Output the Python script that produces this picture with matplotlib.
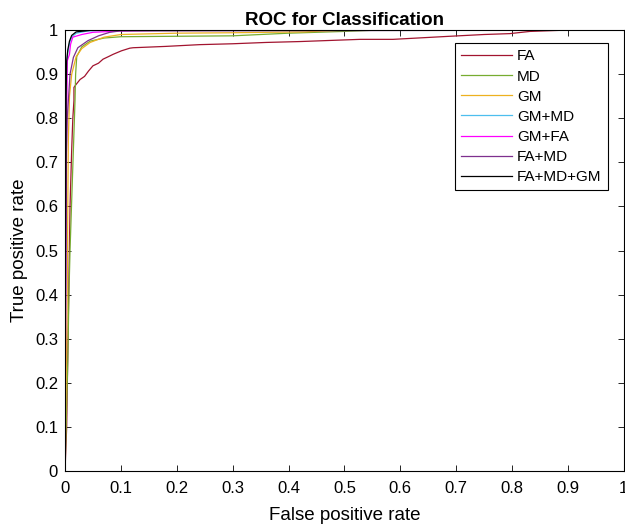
import matplotlib
matplotlib.use("Agg")
import matplotlib.pyplot as plt

plt.rcParams['font.family'] = ['Liberation Sans', 'DejaVu Sans']

names = ["FA", "MD", "GM", "GM+MD", "GM+FA", "FA+MD", "FA+MD+GM"]
colors = ["#a2142f", "#77ac30", "#edb120", "#4dbeee", "#ff00ff", "#7e2f8e", "#000000"]

fa_fpr = [0, 0.003, 0.006, 0.009, 0.012, 0.014, 0.016, 0.016, 0.02, 0.027, 0.035, 0.042, 0.05,
          0.06, 0.068, 0.078, 0.086, 0.101, 0.116, 0.122, 0.18, 0.241, 0.30, 0.36, 0.42, 0.528,
          0.587, 0.689, 0.75, 0.796, 0.832, 0.898, 1.0]
fa_tpr = [0, 0.10, 0.35, 0.60, 0.73, 0.80, 0.84, 0.87, 0.877, 0.888, 0.895, 0.907, 0.919,
          0.925, 0.934, 0.94, 0.945, 0.953, 0.959, 0.96, 0.963, 0.967, 0.969, 0.972, 0.974, 0.979,
          0.979, 0.986, 0.99, 0.992, 0.997, 1.0, 1.0]

md_fpr = [0, 0.002, 0.005, 0.007, 0.009, 0.012, 0.015, 0.018, 0.019, 0.021, 0.03, 0.045, 0.07,
          0.1, 0.2, 0.3, 0.4, 0.5, 0.56, 1.0]
md_tpr = [0, 0.1, 0.25, 0.4, 0.5, 0.615, 0.729, 0.843, 0.9, 0.94, 0.962, 0.975, 0.982,
          0.985, 0.986, 0.987, 0.993, 0.997, 1.0, 1.0]

gm_fpr = [0, 0.002, 0.004, 0.005, 0.006, 0.008, 0.012, 0.02, 0.03, 0.045, 0.07, 0.1, 0.2, 0.3,
          0.43, 0.5, 1.0]
gm_tpr = [0, 0.2, 0.4, 0.6, 0.75, 0.85, 0.9, 0.94, 0.958, 0.972, 0.984, 0.99, 0.993, 0.994,
          0.996, 1.0, 1.0]

gmmd_fpr = [0, 0.001, 0.002, 0.003, 0.005, 0.008, 0.012, 0.02, 0.04, 0.1, 1.0]
gmmd_tpr = [0, 0.4, 0.8, 0.92, 0.95, 0.97, 0.984, 0.993, 0.998, 1.0, 1.0]

gmfa_fpr = [0, 0.001, 0.002, 0.003, 0.004, 0.008, 0.010, 0.014, 0.03, 0.05, 0.1, 0.2, 1.0]
gmfa_tpr = [0, 0.3, 0.6, 0.8, 0.93, 0.945, 0.968, 0.984, 0.99, 0.995, 0.998, 1.0, 1.0]

famd_fpr = [0, 0.001, 0.002, 0.004, 0.007, 0.009, 0.015, 0.023, 0.041, 0.06, 0.08, 0.098, 1.0]
famd_tpr = [0, 0.5, 0.7, 0.8, 0.86, 0.90, 0.938, 0.96, 0.976, 0.987, 0.995, 0.998, 1.0]

all_fpr = [0, 0.001, 0.002, 0.003, 0.005, 0.008, 0.012, 0.02, 0.05, 1.0]
all_tpr = [0, 0.5, 0.85, 0.93, 0.955, 0.975, 0.988, 0.996, 1.0, 1.0]

curves = [(fa_fpr, fa_tpr), (md_fpr, md_tpr), (gm_fpr, gm_tpr), (gmmd_fpr, gmmd_tpr),
          (gmfa_fpr, gmfa_tpr), (famd_fpr, famd_tpr), (all_fpr, all_tpr)]

fig = plt.figure(figsize=(6.25, 5.28), dpi=100)
ax = fig.add_axes([0.104, 0.108, 0.894, 0.835])

for (x, y), name, c in zip(curves, names, colors):
    ax.plot(x, y, color=c, linewidth=0.9, label=name)

ax.set_xlim(0, 1)
ax.set_ylim(0, 1)
ticks = [i / 10 for i in range(11)]
tick_labels = ["0", "0.1", "0.2", "0.3", "0.4", "0.5", "0.6", "0.7", "0.8", "0.9", "1"]
ax.set_xticks(ticks)
ax.set_yticks(ticks)
ax.set_xticklabels(tick_labels)
ax.set_yticklabels(tick_labels)
ax.tick_params(direction="in", top=True, right=True, labelsize=12, length=4, width=0.6)
ax.tick_params(axis="x", pad=7)
ax.tick_params(axis="y", pad=5)
for s in ax.spines.values():
    s.set_linewidth(0.8)

ax.set_xlabel("False positive rate", fontsize=13.5, labelpad=8)
ax.set_ylabel("True positive rate", fontsize=13.5, labelpad=5)
ax.set_title("ROC for Classification", fontsize=13.5, fontweight="bold", pad=4)

leg = ax.legend(loc="upper right", bbox_to_anchor=(0.971, 0.970), fontsize=11,
                fancybox=False, edgecolor="black", framealpha=1, handlelength=3.3,
                handletextpad=0.35, borderpad=0.4, borderaxespad=0, labelspacing=0.4)
leg.get_frame().set_linewidth(0.8)

fig.savefig("out.png", dpi=100)
